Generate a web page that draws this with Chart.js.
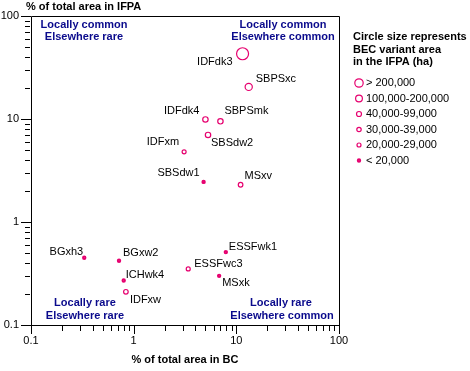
<!DOCTYPE html>
<html>
<head>
<meta charset="utf-8">
<script src="https://cdn.jsdelivr.net/npm/chart.js@4"></script>
<style>
  html, body { margin: 0; padding: 0; background: #fff; }
  #wrap { position: relative; width: 470px; height: 371px; }
</style>
</head>
<body>
<div id="wrap"><canvas id="chart"></canvas></div>
<script>
// BEC variants: share of BC area vs share of IFPA area (log-log)
const variants = ['IDFdk3', 'SBPSxc', 'IDFdk4', 'SBPSmk', 'SBSdw2', 'IDFxm', 'SBSdw1', 'MSxv',
  'ESSFwk1', 'BGxh3', 'BGxw2', 'ESSFwc3', 'MSxk', 'ICHwk4', 'IDFxw'];
const pctBC = [11.5, 13.2, 5.0, 7.0, 5.3, 3.1, 4.8, 11.0, 7.9, 0.33, 0.72, 3.4, 6.8, 0.80, 0.84];
const pctIFPA = [43, 20.5, 9.9, 9.5, 7.0, 4.8, 2.45, 2.3, 0.51, 0.45, 0.42, 0.35, 0.30, 0.27, 0.21];
// index into areaClassLabels
const areaClass = [0, 1, 2, 2, 2, 4, 5, 3, 5, 5, 5, 4, 5, 5, 3];
const areaClassLabels = ['> 200,000', '100,000-200,000', '40,000-99,000', '30,000-39,000',
  '20,000-29,000', '< 20,000'];
const xTickValues = [0.1, 1, 10, 100];
const yTickValues = [0.1, 1, 10, 100];
const xTickLabels = ['0.1', '1', '10', '100'];
const yTickLabels = ['0.1', '1', '10', '100'];

// styling / placement (not data)
const PINK = '#e6006f';
const NAVY = '#0a0a8c';
const FONT = '"Liberation Sans", Arial, sans-serif';
const classRadius = [6, 3.6, 2.7, 2.3, 2, 1.2];
const legendRadius = [4.2, 3.4, 2.5, 2.2, 2, 1.2];
// [dx, dy, align] of each point label
const labelPlacement = [
  [-10, 8, 'right'], [7, -8, 'left'], [-6, -8, 'right'], [4, -10, 'left'], [3, 8, 'left'],
  [-5, -10, 'right'], [-4, -9, 'right'], [4, -9, 'left'], [3, -5, 'left'], [-1, -6, 'right'],
  [4, -8, 'left'], [6, -5, 'left'], [3, 7, 'left'], [2, -6, 'left'], [4, 8, 'left']
];

const points = variants.map((v, i) => ({ x: pctBC[i], y: pctIFPA[i] }));

function minorValues(min, max) {
  const out = [];
  for (let d = min; d < max; d *= 10) {
    for (let k = 2; k <= 9; k++) out.push(d * k);
  }
  return out;
}

function text(ctx, str, x, y, font, color, align) {
  ctx.font = font;
  ctx.fillStyle = color;
  ctx.textAlign = align || 'left';
  ctx.textBaseline = 'middle';
  ctx.fillText(str, x, y);
}

const decorPlugin = {
  id: 'decor',
  afterDatasetsDraw(chart) {
    const ctx = chart.ctx;
    const a = chart.chartArea;
    const xs = chart.scales.x;
    const ys = chart.scales.y;
    ctx.save();

    // box
    ctx.strokeStyle = '#000';
    ctx.lineWidth = 1;
    ctx.beginPath();
    ctx.rect(Math.round(a.left) + 0.5, Math.round(a.top) + 0.5,
      Math.round(a.right - a.left), Math.round(a.bottom - a.top));
    ctx.stroke();

    // y axis ticks
    ctx.beginPath();
    yTickValues.forEach(v => {
      const py = Math.round(ys.getPixelForValue(v)) + 0.5;
      ctx.moveTo(a.left - 10, py); ctx.lineTo(a.left, py);
    });
    minorValues(0.1, 100).forEach(v => {
      const py = Math.round(ys.getPixelForValue(v)) + 0.5;
      ctx.moveTo(a.left - 6, py); ctx.lineTo(a.left - 1, py);
    });
    // x axis ticks
    xTickValues.forEach(v => {
      const px = Math.round(xs.getPixelForValue(v)) + 0.5;
      ctx.moveTo(px, a.bottom); ctx.lineTo(px, a.bottom + 9);
    });
    minorValues(0.1, 100).forEach(v => {
      const px = Math.round(xs.getPixelForValue(v)) + 0.5;
      ctx.moveTo(px, a.bottom + 1); ctx.lineTo(px, a.bottom + 6);
    });
    ctx.stroke();

    const tickFont = '11px ' + FONT;
    yTickValues.forEach((v, i) => {
      text(ctx, yTickLabels[i], a.left - 12, ys.getPixelForValue(v), tickFont, '#000', 'right');
    });
    xTickValues.forEach((v, i) => {
      text(ctx, xTickLabels[i], xs.getPixelForValue(v), a.bottom + 16, tickFont, '#000', 'center');
    });

    // axis titles
    const boldFont = 'bold 11px ' + FONT;
    text(ctx, '% of total area in IFPA', 26, 7, boldFont, '#000', 'left');
    text(ctx, '% of total area in BC', 185, 360, boldFont, '#000', 'center');

    // quadrant notes
    const qFont = 'bold 11px ' + FONT;
    text(ctx, 'Locally common', 84, 25, qFont, NAVY, 'center');
    text(ctx, 'Elsewhere rare', 84, 37, qFont, NAVY, 'center');
    text(ctx, 'Locally common', 283, 25, qFont, NAVY, 'center');
    text(ctx, 'Elsewhere common', 283, 37, qFont, NAVY, 'center');
    text(ctx, 'Locally rare', 85, 303, qFont, NAVY, 'center');
    text(ctx, 'Elsewhere rare', 85, 316, qFont, NAVY, 'center');
    text(ctx, 'Locally rare', 281, 303, qFont, NAVY, 'center');
    text(ctx, 'Elsewhere common', 282, 316, qFont, NAVY, 'center');

    // point labels
    const meta = chart.getDatasetMeta(0);
    const lblFont = '11px ' + FONT;
    meta.data.forEach((el, i) => {
      const [dx, dy, al] = labelPlacement[i];
      text(ctx, variants[i], el.x + dx, el.y + dy, lblFont, '#000', al);
    });

    // legend
    text(ctx, 'Circle size represents', 353, 37, boldFont, '#000', 'left');
    text(ctx, 'BEC variant area', 353, 50, boldFont, '#000', 'left');
    text(ctx, 'in the IFPA (ha)', 353, 62, boldFont, '#000', 'left');
    areaClassLabels.forEach((lbl, i) => {
      const cy = 83 + i * 15.5;
      ctx.strokeStyle = PINK;
      ctx.lineWidth = i === 5 ? 2 : 1.2;
      ctx.beginPath();
      ctx.arc(359, cy, legendRadius[i], 0, Math.PI * 2);
      ctx.stroke();
      text(ctx, lbl, 366, cy, '11px ' + FONT, '#000', 'left');
    });

    ctx.restore();
  }
};

new Chart(document.getElementById('chart'), {
  type: 'scatter',
  data: {
    datasets: [{
      data: points,
      pointRadius: areaClass.map(c => classRadius[c]),
      pointHoverRadius: areaClass.map(c => classRadius[c]),
      pointBorderColor: PINK,
      pointBackgroundColor: 'rgba(0,0,0,0)',
      pointBorderWidth: areaClass.map(c => (c === 5 ? 2 : 1.2)),
      clip: false
    }]
  },
  options: {
    responsive: true,
    maintainAspectRatio: false,
    animation: false,
    layout: { padding: { left: 31, top: 16, right: 131, bottom: 46 } },
    plugins: { legend: { display: false }, tooltip: { enabled: false } },
    scales: {
      x: { type: 'logarithmic', min: 0.1, max: 100, display: false },
      y: { type: 'logarithmic', min: 0.1, max: 100, display: false }
    }
  },
  plugins: [decorPlugin]
});
</script>
</body>
</html>
